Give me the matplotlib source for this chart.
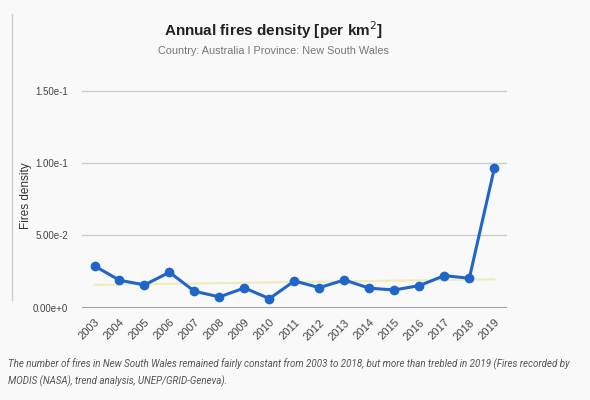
import matplotlib.pyplot as plt
import numpy as np

# Annual fires density, New South Wales
years = [2003, 2004, 2005, 2006, 2007, 2008, 2009, 2010, 2011,
         2012, 2013, 2014, 2015, 2016, 2017, 2018, 2019]
density = [0.0288, 0.0189, 0.0157, 0.0244, 0.0113, 0.0074, 0.0136, 0.0062, 0.0184,
           0.0138, 0.0191, 0.0134, 0.0122, 0.0152, 0.0221, 0.0203, 0.0963]
trend_years = [2003, 2019]
trend_vals = [0.0157, 0.0196]
yticks = [0.0, 0.05, 0.10, 0.15]
ytick_labels = ['0.00e+0', '5.00e-2', '1.00e-1', '1.50e-1']

plt.rcParams['font.family'] = ['Liberation Sans', 'DejaVu Sans']

fig = plt.figure(figsize=(5.9, 4.0), dpi=100, facecolor='#f9f9f9')
ax = fig.add_axes([0.139, 0.231, 0.72, 0.5605])
ax.set_facecolor('#f9f9f9')

ax.plot(trend_years, trend_vals, color='#eeecb8', lw=1.5, zorder=2)
ax.plot(years, density, color='#1f66c8', lw=2.2, marker='o', ms=6, zorder=3)

ax.set_xlim(2002.5, 2019.5)
ax.set_ylim(0, 0.155)
ax.set_yticks(yticks)
ax.set_yticklabels(ytick_labels)
ax.set_xticks(years)
ax.set_xticklabels([str(y) for y in years], rotation=45, ha='right', rotation_mode='anchor')
ax.tick_params(axis='both', length=0, labelsize=7, labelcolor='#444444')
ax.tick_params(axis='x', pad=7, labelsize=8)
ax.tick_params(axis='y', pad=10)

ax.grid(axis='y', color='#cccccc', lw=1)
ax.axhline(0, color='#999999', lw=1.5, zorder=1)
for s in ax.spines.values():
    s.set_visible(False)

ax.set_ylabel('Fires density', fontsize=8.5, color='#333333')
ax.yaxis.set_label_coords(-0.118, 0.5)

fig.text(0.463, 0.925, 'Annual fires density [per km$^2$]', ha='center', va='center',
         fontsize=11, fontweight='bold', color='#222222')
fig.text(0.463, 0.872, 'Country: Australia I Province: New South Wales', ha='center', va='center',
         fontsize=7.8, color='#777777')

fig.text(0.013, 0.0675, 'The number of fires in New South Wales remained fairly constant from 2003 to 2018, but more than trebled in 2019 (Fires recorded by\nMODIS (NASA), trend analysis, UNEP/GRID-Geneva).',
         ha='left', va='center', fontsize=7.05, style='italic', color='#555555',
         family=['Roboto', 'DejaVu Sans'], linespacing=1.6)

# thin grey edge on the left of the screenshot
fig.add_artist(plt.Line2D([0.02, 0.02], [0.25, 0.965], color='#cccccc', lw=1))

fig.savefig('out.png', dpi=100, facecolor=fig.get_facecolor())
